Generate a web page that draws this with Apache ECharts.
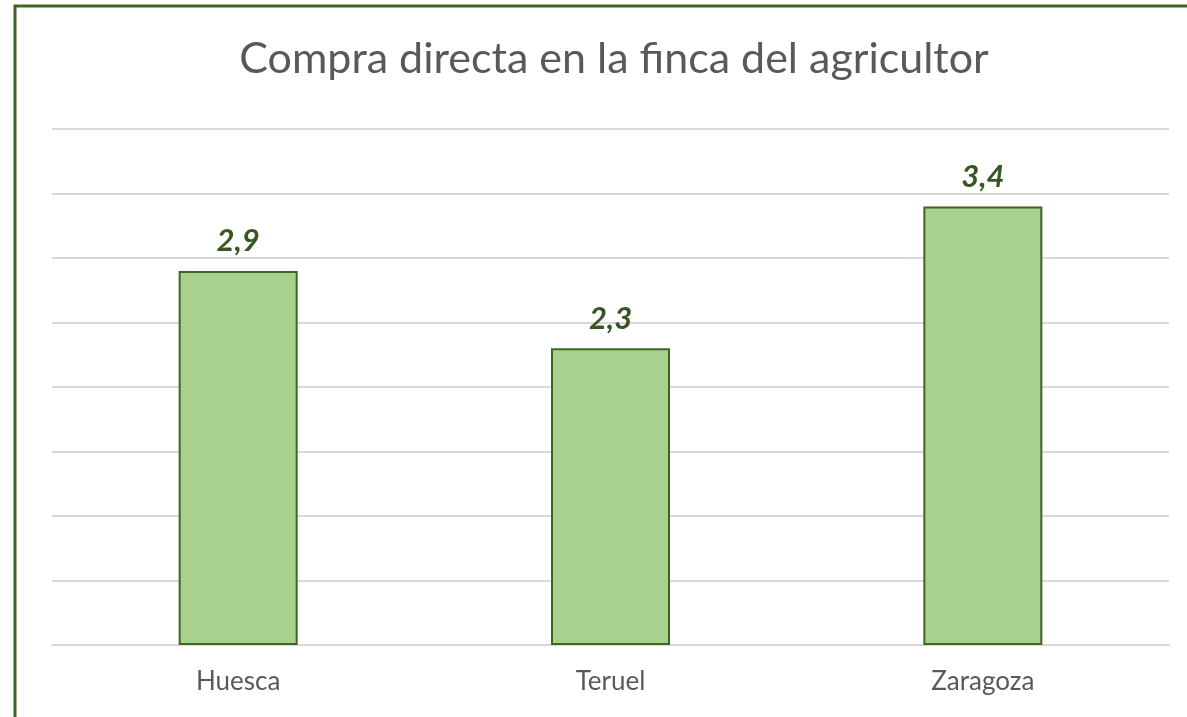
<!DOCTYPE html>
<html>
<head>
<meta charset="utf-8">
<script src="https://cdn.jsdelivr.net/npm/echarts@6/dist/echarts.min.js"></script>
<style>
  html, body { margin: 0; padding: 0; background: #ffffff; }
  #chart { width: 1187px; height: 717px; }
</style>
</head>
<body>
<div id="chart"></div>
<script>
// Provinces and their values
const categories = ['Huesca', 'Teruel', 'Zaragoza'];
const values = [2.9, 2.3, 3.4];
const titleText = 'Compra directa en la finca del agricultor';

const chart = echarts.init(document.getElementById('chart'), null, { renderer: 'canvas' });

chart.setOption({
  backgroundColor: '#ffffff',
  animation: false,
  title: {
    text: titleText,
    left: 609,
    textAlign: 'center',
    top: 33,
    textStyle: {
      fontFamily: 'Lato',
      fontSize: 43,
      fontWeight: 'normal',
      color: '#595959'
    }
  },
  graphic: [{
    type: 'rect',
    shape: { x: 15, y: 6, width: 1200, height: 760 },
    style: { fill: 'none', stroke: '#3f6522', lineWidth: 3 },
    silent: true
  }],
  grid: { left: 52, right: 18, top: 129, bottom: 72 },
  xAxis: {
    type: 'category',
    data: categories,
    axisTick: { show: false },
    axisLine: { show: true, lineStyle: { color: '#d9d9d9', width: 2 } },
    axisLabel: {
      margin: 24,
      fontFamily: 'Lato',
      fontSize: 26,
      color: '#595959'
    }
  },
  yAxis: {
    type: 'value',
    min: 0,
    max: 4,
    interval: 0.5,
    axisLabel: { show: false },
    axisLine: { show: false },
    axisTick: { show: false },
    splitLine: { lineStyle: { color: '#d9d9d9', width: 2 } }
  },
  series: [{
    type: 'bar',
    data: values,
    barWidth: 119,
    itemStyle: {
      color: '#a9d18e',
      borderColor: '#3f6522',
      borderWidth: 2
    },
    label: {
      show: true,
      position: 'top',
      distance: 14,
      fontFamily: 'Lato',
      fontSize: 31,
      fontWeight: 'bold',
      fontStyle: 'italic',
      color: '#375623',
      formatter: p => p.value.toFixed(1).replace('.', ',')
    }
  }]
});
</script>
</body>
</html>
